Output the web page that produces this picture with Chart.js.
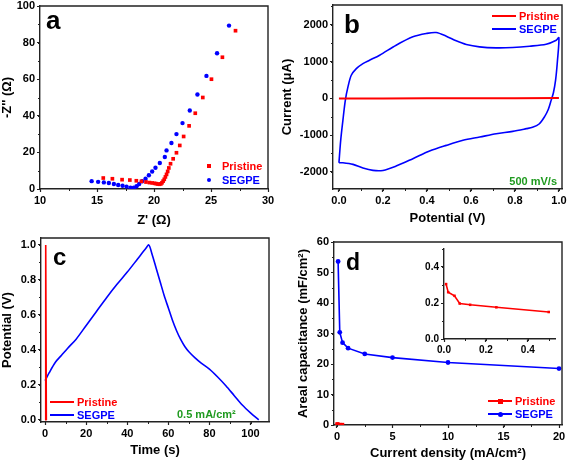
<!DOCTYPE html>
<html lang="en">
<head>
<meta charset="UTF-8">
<title>Pristine vs SEGPE</title>
<script src="https://cdn.jsdelivr.net/npm/chart.js@4"></script>
<style>
  body { margin: 0; background: #fff; }
  #fig {
    position: relative; width: 567px; height: 461px; overflow: hidden;
    font-family: 'Liberation Sans', Arial, sans-serif; font-weight: bold;
  }
  .panel { position: absolute; }
  .tag { position: absolute; line-height: 1; color: #000; }
  .txt { position: absolute; font-size: 11px; line-height: 1; white-space: nowrap; }
  .mk { position: absolute; }
  .green { color: #1f9a1f; }
</style>
</head>
<body>
<div id="fig">
  <canvas id="chartA" class="panel" width="280" height="230" style="left:0;top:0"></canvas>
  <canvas id="chartB" class="panel" width="289" height="230" style="left:278px;top:0"></canvas>
  <canvas id="chartC" class="panel" width="280" height="231" style="left:0;top:230px"></canvas>
  <canvas id="chartD" class="panel" width="289" height="231" style="left:278px;top:230px"></canvas>
  <canvas id="chartInset" class="panel" width="145" height="112" style="left:420px;top:244px"></canvas>

  <div class="tag" style="left:46px;top:7px;font-size:26px">a</div>
  <div class="tag" style="left:344px;top:11px;font-size:26px">b</div>
  <div class="tag" style="left:53px;top:245px;font-size:24px">c</div>
  <div class="tag" style="left:346px;top:251px;font-size:23px">d</div>

  <div class="txt green" style="right:10px;top:176px">500 mV/s</div>
  <div class="txt green" style="left:177px;top:409px">0.5 mA/cm²</div>
</div>

<script>
// ---- a: Nyquist plot ----
var nyqPristineX = [15.55, 16.35, 17.2, 17.88, 18.45, 18.9, 19.3, 19.6, 19.85, 20.05, 20.2, 20.35, 20.48,
  20.6, 20.7, 20.8, 20.9, 21.0, 21.1, 21.2, 21.3, 21.45, 21.68, 21.97, 22.26, 22.6, 23.08, 23.62, 24.28, 25.04, 26.0, 27.15];
var nyqPristineY = [6.0, 5.6, 5.1, 4.9, 4.5, 4.2, 3.8, 3.5, 3.3, 3.1, 2.9, 2.7, 2.6,
  2.8, 3.4, 4.3, 5.3, 6.6, 8.0, 9.6, 11.5, 13.8, 16.5, 19.8, 23.8, 28.7, 34.5, 41.4, 50, 60, 72, 86.5];
var nyqSegpeX = [14.53, 15.1, 15.6, 16.04, 16.48, 16.86, 17.24, 17.59, 17.94, 18.23, 18.47, 18.7, 18.96,
  19.26, 19.55, 19.84, 20.13, 20.51, 20.95, 21.1, 21.53, 21.97, 22.5, 23.14, 23.81, 24.6, 25.53, 26.58];
var nyqSegpeY = [4.3, 3.9, 3.6, 3.3, 2.7, 2.2, 1.8, 1.3, 0.7, 0.7, 1.5, 2.7, 4.2,
  5.6, 7.5, 9.6, 11.6, 14.2, 17.5, 21.1, 25.1, 30, 36, 42.9, 51.6, 61.8, 74.2, 89.3];
var nyqTicksX = [10, 15, 20, 25, 30];
var nyqTicksY = [0, 20, 40, 60, 80, 100];

// ---- b: cyclic voltammetry ----
var cvPristineV = [0.0, 0.2, 0.4, 0.6, 0.8, 1.0];
var cvPristineI = [-6, -4, -2, 1, 3, 6];
var cvSegpeV = [0.0, 0.008, 0.018, 0.029, 0.041, 0.056, 0.079, 0.109, 0.139, 0.185, 0.26, 0.336, 0.397, 0.442,
  0.488, 0.533, 0.579, 0.639, 0.715, 0.79, 0.867, 0.942, 0.988, 1.0,
  0.993, 0.985, 0.975, 0.965, 0.952, 0.935, 0.91, 0.88, 0.852, 0.79, 0.715, 0.64, 0.564, 0.488, 0.412,
  0.336, 0.26, 0.2, 0.155, 0.109, 0.064, 0.018, 0.0];
var cvSegpeI = [-1755, -1145, -600, -55, 309, 627, 809, 945, 1036, 1173, 1445, 1673, 1764, 1791,
  1691, 1564, 1464, 1400, 1373, 1382, 1418, 1473, 1582, 1650,
  1000, 500, 150, -50, -300, -500, -700, -790, -827, -900, -964, -1055, -1145, -1282, -1436,
  -1645, -1845, -1964, -1964, -1900, -1800, -1755, -1755];
var cvTicksX = [0, 0.2, 0.4, 0.6, 0.8, 1.0];
var cvTicksY = [-2000, -1000, 0, 1000, 2000];

// ---- c: charge / discharge ----
var gcdPristineT = [0.1, 0.3, 0.6];
var gcdPristineV = [0.0, 1.0, 0.0];
var gcdSegpeT = [0, 2, 5, 8, 11, 15, 20, 25, 30, 35, 40, 45, 49, 50.5,
  52, 54, 56, 58, 60, 62, 64, 66, 68, 70, 73, 76, 80, 84, 88, 92, 96, 100, 104];
var gcdSegpeV = [0.225, 0.27, 0.33, 0.37, 0.41, 0.46, 0.54, 0.62, 0.70, 0.775, 0.845, 0.92, 0.98, 1.0,
  0.95, 0.87, 0.79, 0.71, 0.64, 0.57, 0.51, 0.46, 0.42, 0.39, 0.355, 0.325, 0.29, 0.245, 0.195, 0.14, 0.085, 0.04, 0.0];
var gcdTicksX = [0, 20, 40, 60, 80, 100];
var gcdTicksY = [0, 0.2, 0.4, 0.6, 0.8, 1.0];

// ---- d: areal capacitance ----
var capPristineJ = [0.01, 0.02, 0.05, 0.075, 0.125, 0.25, 0.5];
var capPristineC = [0.305, 0.26, 0.24, 0.197, 0.19, 0.176, 0.15];
var capSegpeJ = [0.1, 0.25, 0.5, 1, 2.5, 5, 10, 20];
var capSegpeC = [53.6, 30.4, 27.0, 25.2, 23.3, 22.1, 20.5, 18.5];
var capTicksX = [0, 5, 10, 15, 20];
var capTicksY = [0, 10, 20, 30, 40, 50, 60];
var insetTicksX = [0, 0.2, 0.4];
var insetTicksY = [0, 0.2, 0.4];

var RED = '#ff0000';
var BLUE = '#0000ff';

Chart.defaults.font.family = "'Liberation Sans', Arial, sans-serif";
Chart.defaults.font.weight = 'bold';
Chart.defaults.color = '#000';

function pts(xs, ys) {
  return xs.map(function (x, i) { return { x: x, y: ys[i] }; });
}

// fixed axis sizes so the plot boxes land where the figure has them
function axis(o) {
  return {
    type: 'linear', position: o.pos, min: o.min, max: o.max,
    border: { color: '#222', width: 1.4 },
    grid: { drawOnChartArea: false, tickLength: 3, tickColor: '#222', tickWidth: 1.2 },
    ticks: {
      padding: 2, color: '#000',
      font: { size: o.fs || 11, weight: 'bold' },
      callback: function (v) { return o.dec ? v.toFixed(o.dec) : String(v); }
    },
    afterBuildTicks: function (s) {
      s.ticks = o.ticks.map(function (v) { return { value: v }; });
    },
    title: {
      display: !!o.title, text: o.title, color: '#000',
      font: { size: 13, weight: 'bold' },
      padding: { top: o.tpad || 0, bottom: o.tpad || 0 }
    },
    afterFit: function (s) {
      if (s.isHorizontal()) s.height = o.size; else s.width = o.size;
      s.paddingLeft = s.paddingRight = s.paddingTop = s.paddingBottom = 0;
    }
  };
}

var minorTicks = {
  id: 'minorTicks',
  afterDraw: function (chart, args, opts) {
    var ctx = chart.ctx;
    ctx.save();
    ctx.strokeStyle = '#222';
    ctx.lineWidth = 1;
    ['x', 'y'].forEach(function (id) {
      var step = opts[id];
      if (!step) return;
      var s = chart.scales[id];
      for (var v = Math.ceil(s.min / step) * step; v <= s.max + 1e-9; v += step) {
        var p = Math.round(s.getPixelForValue(v)) + 0.5;
        ctx.beginPath();
        if (id === 'x') { ctx.moveTo(p, s.top); ctx.lineTo(p, s.top + 2); }
        else { ctx.moveTo(s.right, p); ctx.lineTo(s.right - 2, p); }
        ctx.stroke();
      }
    });
    if (opts.box) {
      var a = chart.chartArea;
      ctx.lineWidth = 1.4;
      ctx.beginPath();
      ctx.moveTo(a.left, a.top); ctx.lineTo(a.right, a.top); ctx.lineTo(a.right, a.bottom);
      ctx.stroke();
    }
    ctx.restore();
  }
};

function baseOptions(pad, x, y, minor) {
  return {
    responsive: false, animation: false,
    layout: { padding: { top: pad.top, right: pad.right, left: 0, bottom: 0 } },
    scales: { x: x, y: y },
    plugins: { legend: { display: false }, tooltip: { enabled: false }, minorTicks: minor }
  };
}

new Chart(document.getElementById('chartA'), {
  type: 'scatter',
  data: {
    datasets: [
      { data: pts(nyqPristineX, nyqPristineY), pointStyle: 'rect', pointRadius: 2.6, pointBorderWidth: 0, backgroundColor: RED },
      { data: pts(nyqSegpeX, nyqSegpeY), pointStyle: 'circle', pointRadius: 2.2, pointBorderWidth: 0, backgroundColor: BLUE }
    ]
  },
  options: baseOptions({ top: 6, right: 12 },
    axis({ pos: 'bottom', min: 10, max: 30, ticks: nyqTicksX, size: 41, title: "Z' (Ω)", tpad: 2 }),
    axis({ pos: 'left', min: 0, max: 100, ticks: nyqTicksY, size: 40, title: "-Z'' (Ω)", tpad: 0 }),
    { x: 2.5, y: 10, box: true }),
  plugins: [minorTicks]
});

new Chart(document.getElementById('chartB'), {
  type: 'scatter',
  data: {
    datasets: [
      { data: pts(cvPristineV, cvPristineI), showLine: true, borderColor: RED, borderWidth: 2, pointRadius: 0 },
      { data: pts(cvSegpeV, cvSegpeI), showLine: true, borderColor: BLUE, borderWidth: 1.6, pointRadius: 0, tension: 0.3 }
    ]
  },
  options: baseOptions({ top: 5, right: 5 },
    axis({ pos: 'bottom', min: -0.027, max: 1.014, ticks: cvTicksX, dec: 1, size: 41, title: 'Potential (V)', tpad: 4 }),
    axis({ pos: 'left', min: -2470, max: 2540, ticks: cvTicksY, size: 55, title: 'Current (μA)', tpad: 2 }),
    { x: 0.1, y: 500, box: true }),
  plugins: [minorTicks]
});

new Chart(document.getElementById('chartC'), {
  type: 'scatter',
  data: {
    datasets: [
      { data: pts(gcdPristineT, gcdPristineV), showLine: true, borderColor: RED, borderWidth: 1.6, pointRadius: 0 },
      { data: pts(gcdSegpeT, gcdSegpeV), showLine: true, borderColor: BLUE, borderWidth: 1.6, pointRadius: 0, tension: 0.3 }
    ]
  },
  options: baseOptions({ top: 8, right: 11 },
    axis({ pos: 'bottom', min: -2, max: 109, ticks: gcdTicksX, size: 39, title: 'Time (s)', tpad: 3 }),
    axis({ pos: 'left', min: -0.012, max: 1.04, ticks: gcdTicksY, dec: 1, size: 41, title: 'Potential (V)', tpad: 0 }),
    { x: 10, y: 0.1, box: true }),
  plugins: [minorTicks]
});

new Chart(document.getElementById('chartD'), {
  type: 'scatter',
  data: {
    datasets: [
      { data: pts(capPristineJ, capPristineC), showLine: true, borderColor: RED, borderWidth: 1.6,
        pointStyle: 'rect', pointRadius: 2.4, pointBorderWidth: 0, backgroundColor: RED },
      { data: pts(capSegpeJ, capSegpeC), showLine: true, borderColor: BLUE, borderWidth: 1.6,
        pointStyle: 'circle', pointRadius: 2.4, pointBorderWidth: 0, backgroundColor: BLUE }
    ]
  },
  options: baseOptions({ top: 12, right: 5 },
    axis({ pos: 'bottom', min: -0.27, max: 20.27, ticks: capTicksX, size: 36, title: 'Current density (mA/cm²)', tpad: 0 }),
    axis({ pos: 'left', min: 0, max: 60, ticks: capTicksY, size: 56, title: 'Areal capacitance (mF/cm²)', tpad: 18 }),
    { x: 2.5, y: 5, box: true }),
  plugins: [minorTicks]
});

new Chart(document.getElementById('chartInset'), {
  type: 'scatter',
  data: {
    datasets: [
      { data: pts(capPristineJ, capPristineC), showLine: true, borderColor: RED, borderWidth: 1.6,
        pointStyle: 'rect', pointRadius: 1.8, pointBorderWidth: 0, backgroundColor: RED }
    ]
  },
  options: baseOptions({ top: 5, right: 10 },
    axis({ pos: 'bottom', min: 0, max: 0.53, ticks: insetTicksX, dec: 1, fs: 10, size: 17 }),
    axis({ pos: 'left', min: 0, max: 0.5, ticks: insetTicksY, dec: 1, fs: 10, size: 24 }),
    { x: 0.1, y: 0.1, box: false }),
  plugins: [minorTicks]
});

// legends, placed inside each plot as in the figure
var fig = document.getElementById('fig');
function legendRow(x, y, color, label, mark) {
  var lineLen = 24;
  if (mark === 'sq' || mark === 'dot') {
    var m = document.createElement('div');
    m.className = 'mk';
    m.style.cssText = 'left:' + (x - 2) + 'px;top:' + (y - 2) + 'px;width:4px;height:4px;background:' + color +
      (mark === 'dot' ? ';border-radius:50%' : '');
    fig.appendChild(m);
    x += 13;
  } else {
    var l = document.createElement('div');
    l.className = 'mk';
    l.style.cssText = 'left:' + x + 'px;top:' + (y - 1) + 'px;width:' + lineLen + 'px;height:2px;background:' + color;
    fig.appendChild(l);
    if (mark !== 'line') {
      var d = document.createElement('div');
      d.className = 'mk';
      d.style.cssText = 'left:' + (x + lineLen / 2 - 2.5) + 'px;top:' + (y - 2.5) + 'px;width:5px;height:5px;background:' + color +
        (mark === 'line-dot' ? ';border-radius:50%' : '');
      fig.appendChild(d);
    }
    x += lineLen + 3;
  }
  var t = document.createElement('div');
  t.className = 'txt';
  t.textContent = label;
  t.style.cssText = 'left:' + x + 'px;top:' + (y - 5.5) + 'px;color:' + color;
  fig.appendChild(t);
}

legendRow(209, 166, RED, 'Pristine', 'sq');
legendRow(209, 180, BLUE, 'SEGPE', 'dot');
legendRow(492, 16, RED, 'Pristine', 'line');
legendRow(492, 29, BLUE, 'SEGPE', 'line');
legendRow(50, 402, RED, 'Pristine', 'line');
legendRow(50, 415, BLUE, 'SEGPE', 'line');
legendRow(488, 401, RED, 'Pristine', 'line-sq');
legendRow(488, 414, BLUE, 'SEGPE', 'line-dot');
</script>
</body>
</html>
